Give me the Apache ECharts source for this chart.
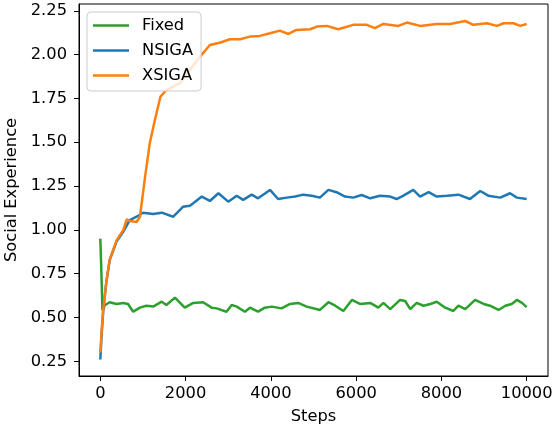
<!DOCTYPE html>
<html>
<head>
<meta charset="utf-8">
<script src="https://cdn.jsdelivr.net/npm/echarts@6/dist/echarts.min.js"></script>
<style>
html,body{margin:0;padding:0;background:#fff;}
#chart{width:553px;height:433px;}
</style>
</head>
<body>
<div id="chart"></div>
<script>
const xTicks = [0, 2000, 4000, 6000, 8000, 10000];
const yTicks = [0.25, 0.5, 0.75, 1.0, 1.25, 1.5, 1.75, 2.0, 2.25];

const fixedSteps = [0, 20, 50, 110, 220, 380, 540, 650, 770, 930, 1080, 1240, 1440, 1550, 1750, 1980, 2180, 2410, 2610, 2730, 2960, 3080, 3200, 3390, 3510, 3700, 3860, 4020, 4250, 4450, 4640, 4840, 5150, 5350, 5510, 5700, 5900, 6090, 6330, 6520, 6640, 6800, 7030, 7150, 7270, 7420, 7580, 7740, 7890, 8090, 8280, 8400, 8560, 8790, 8990, 9140, 9340, 9500, 9650, 9770, 9890, 10000];
const fixedValues = [0.95, 0.80, 0.54, 0.571, 0.587, 0.577, 0.583, 0.577, 0.533, 0.556, 0.567, 0.562, 0.590, 0.571, 0.613, 0.556, 0.583, 0.587, 0.556, 0.552, 0.533, 0.571, 0.562, 0.533, 0.556, 0.533, 0.556, 0.562, 0.552, 0.577, 0.583, 0.562, 0.543, 0.587, 0.567, 0.537, 0.600, 0.577, 0.583, 0.556, 0.583, 0.548, 0.600, 0.594, 0.548, 0.583, 0.567, 0.577, 0.590, 0.556, 0.537, 0.567, 0.548, 0.600, 0.577, 0.567, 0.543, 0.567, 0.577, 0.600, 0.583, 0.559];

const nsigaSteps = [0, 30, 70, 140, 220, 380, 540, 690, 850, 1000, 1240, 1440, 1710, 1870, 1940, 2100, 2180, 2380, 2570, 2770, 3000, 3200, 3350, 3550, 3700, 3980, 4170, 4370, 4570, 4760, 4960, 5150, 5350, 5540, 5740, 5930, 6130, 6330, 6560, 6800, 6950, 7110, 7340, 7500, 7700, 7890, 8130, 8400, 8670, 8910, 9100, 9380, 9610, 9770, 10000];
const nsigaValues = [0.26, 0.40, 0.543, 0.70, 0.828, 0.933, 0.990, 1.056, 1.075, 1.098, 1.090, 1.098, 1.075, 1.114, 1.132, 1.138, 1.152, 1.190, 1.165, 1.209, 1.161, 1.195, 1.171, 1.201, 1.180, 1.228, 1.176, 1.184, 1.190, 1.201, 1.195, 1.184, 1.228, 1.215, 1.190, 1.184, 1.199, 1.180, 1.195, 1.190, 1.176, 1.195, 1.228, 1.190, 1.215, 1.190, 1.195, 1.201, 1.176, 1.222, 1.195, 1.184, 1.209, 1.184, 1.176];

const xsigaSteps = [0, 30, 70, 140, 220, 380, 540, 620, 700, 850, 930, 1050, 1160, 1280, 1410, 1440, 1550, 1870, 2100, 2340, 2570, 2800, 3040, 3280, 3510, 3740, 3980, 4210, 4410, 4600, 4920, 5080, 5310, 5580, 5930, 6250, 6440, 6640, 6990, 7190, 7500, 7890, 8200, 8560, 8750, 9070, 9300, 9460, 9690, 9850, 10000];
const xsigaValues = [0.30, 0.42, 0.55, 0.70, 0.83, 0.94, 1.00, 1.06, 1.05, 1.045, 1.075, 1.304, 1.494, 1.627, 1.76, 1.77, 1.798, 1.837, 1.913, 1.989, 2.055, 2.068, 2.088, 2.088, 2.103, 2.107, 2.122, 2.137, 2.118, 2.141, 2.145, 2.160, 2.164, 2.145, 2.170, 2.170, 2.151, 2.175, 2.164, 2.183, 2.164, 2.175, 2.175, 2.192, 2.170, 2.179, 2.164, 2.179, 2.179, 2.164, 2.175];

function pairs(xs, ys) { return xs.map((x, i) => [x, ys[i]]); }

const font = 'DejaVu Sans';
const fs = 16.3;
const chart = echarts.init(document.getElementById('chart'), null, {renderer: 'canvas'});
chart.setOption({
  animation: false,
  backgroundColor: '#fff',
  grid: {left: 79, right: 5, top: 4, bottom: 57, containLabel: false, outerBoundsMode: 'none', show: true, borderColor: '#000', borderWidth: 1, backgroundColor: 'transparent'},
  legend: {
    orient: 'vertical', left: 87, top: 12,
    icon: 'rect', itemWidth: 36, itemHeight: 2.5, itemGap: 8,
    padding: [5, 8, 7, 6],
    borderColor: '#cccccc', borderWidth: 1, borderRadius: 4, backgroundColor: 'rgba(255,255,255,0.8)',
    textStyle: {fontFamily: font, fontSize: fs, color: '#000', lineHeight: 17, padding: [0, 0, 0, 8]},
    data: ['Fixed', 'NSIGA', 'XSIGA']
  },
  xAxis: {
    type: 'value', min: -500, max: 10500,
    name: 'Steps', nameLocation: 'middle', nameGap: 33,
    nameTextStyle: {fontFamily: font, fontSize: fs, color: '#000'},
    axisLine: {show: true, onZero: false, lineStyle: {color: '#000', width: 1}},
    axisTick: {show: true, inside: false, length: 5, lineStyle: {color: '#000'}, customValues: xTicks},
    axisLabel: {fontFamily: font, fontSize: fs, color: '#000', margin: 10, customValues: xTicks, formatter: v => String(v)},
    splitLine: {show: false}
  },
  yAxis: {
    type: 'value', min: 0.166, max: 2.289,
    name: 'Social Experience', nameLocation: 'middle', nameGap: 57,
    nameTextStyle: {fontFamily: font, fontSize: fs, color: '#000'},
    axisLine: {show: true, onZero: false, lineStyle: {color: '#000', width: 1}},
    axisTick: {show: true, inside: false, length: 5, lineStyle: {color: '#000'}, customValues: yTicks},
    axisLabel: {fontFamily: font, fontSize: fs, color: '#000', margin: 12, customValues: yTicks, formatter: v => v.toFixed(2)},
    splitLine: {show: false}
  },
  series: [
    {name: 'Fixed', type: 'line', data: pairs(fixedSteps, fixedValues), showSymbol: false, symbol: 'none', color: '#2ca02c', lineStyle: {width: 2.5, color: '#2ca02c'}},
    {name: 'NSIGA', type: 'line', data: pairs(nsigaSteps, nsigaValues), showSymbol: false, symbol: 'none', color: '#1f77b4', lineStyle: {width: 2.5, color: '#1f77b4'}},
    {name: 'XSIGA', type: 'line', data: pairs(xsigaSteps, xsigaValues), showSymbol: false, symbol: 'none', color: '#ff7f0e', lineStyle: {width: 2.5, color: '#ff7f0e'}}
  ]
});
</script>
</body>
</html>
